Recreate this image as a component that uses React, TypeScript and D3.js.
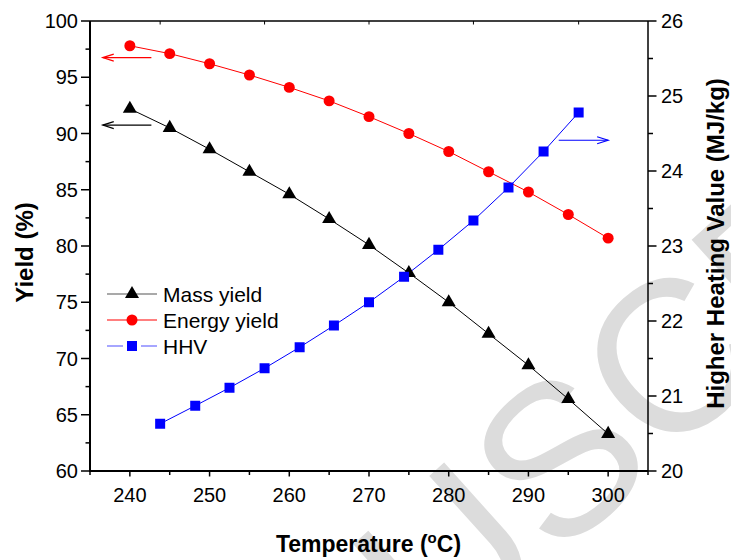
import React from "react";
import * as d3 from "d3";

// temperatures (deg C) for mass / energy yield
const temps = [240, 245, 250, 255, 260, 265, 270, 275, 280, 285, 290, 295, 300];
const massYield = [92.2, 90.5, 88.6, 86.6, 84.6, 82.4, 80.1, 77.6, 75.0, 72.2, 69.4, 66.4, 63.3];
const energyYield = [97.8, 97.1, 96.2, 95.2, 94.1, 92.9, 91.5, 90.0, 88.4, 86.6, 84.8, 82.8, 80.7];
// HHV is plotted against its own (top) x positions
const hhvTemps = [243.8, 248.2, 252.5, 256.9, 261.3, 265.6, 270.0, 274.4, 278.7, 283.1, 287.5, 291.9, 296.3];
const hhv = [20.63, 20.87, 21.11, 21.37, 21.65, 21.94, 22.25, 22.59, 22.95, 23.34, 23.78, 24.26, 24.78];

const xMajor = [240, 250, 260, 270, 280, 290, 300];
const xMinor = [235, 245, 255, 265, 275, 285, 295, 305];
const yMajor = [60, 65, 70, 75, 80, 85, 90, 95, 100];
const yMinor = [62.5, 67.5, 72.5, 77.5, 82.5, 87.5, 92.5, 97.5];
const y2Major = [20, 21, 22, 23, 24, 25, 26];
const y2Minor = [20.5, 21.5, 22.5, 23.5, 24.5, 25.5];

const legendItems = ["Mass yield", "Energy yield", "HHV"];

const font = "'Liberation Sans', Arial, Helvetica, sans-serif";

const margin = { top: 21, right: 83, bottom: 89, left: 90 };
const W = 731;
const H = 560;

export default function App() {
  const w = W - margin.left - margin.right;
  const h = H - margin.top - margin.bottom;
  const x = d3.scaleLinear().domain([235, 305]).range([margin.left, margin.left + w]);
  const y = d3.scaleLinear().domain([60, 100]).range([margin.top + h, margin.top]);
  const y2 = d3.scaleLinear().domain([20, 26]).range([margin.top + h, margin.top]);

  const massPts: [number, number][] = temps.map((t, i) => [x(t), y(massYield[i])]);
  const energyPts: [number, number][] = temps.map((t, i) => [x(t), y(energyYield[i])]);
  const hhvPts: [number, number][] = hhvTemps.map((t, i) => [x(t), y2(hhv[i])]);
  const line = d3.line();

  const tri = d3.symbol().type(d3.symbolTriangle).size(85)()!;
  const circ = d3.symbol().type(d3.symbolCircle).size(95)()!;
  const sq = d3.symbol().type(d3.symbolSquare).size(100)()!;

  const x0 = margin.left;
  const x1 = margin.left + w;
  const yb = margin.top + h;
  const yt = margin.top;
  const topTicks = hhvTemps.filter((_, i) => i % 3 === 0);

  const arrow = (xa: number, xb: number, yy: number, color: string) => {
    // arrow from xa to xb, head at xb
    const dir = xb > xa ? -1 : 1;
    return (
      <g stroke={color} strokeWidth={1.2} fill="none">
        <line x1={xa} x2={xb} y1={yy} y2={yy} />
        <polyline points={`${xb + dir * 11},${yy - 3.5} ${xb},${yy} ${xb + dir * 11},${yy + 3.5}`} />
      </g>
    );
  };

  const legY = [294, 320, 346];
  const legX = 132;

  return (
    <svg
      width={W}
      height={H}
      style={{ position: "absolute", left: 0, top: 0, background: "#fff" }}
      fontFamily={font}
    >
      <rect width={W} height={H} fill="#fff" />
      {/* watermark */}
      <text
        transform="translate(85,985) rotate(-42)"
        fontSize={215}
        fill="#dcdcdc"
      >
        MANUSCRIPT
      </text>

      {/* series */}
      <path d={line(massPts)!} fill="none" stroke="#000" strokeWidth={1} />
      <path d={line(energyPts)!} fill="none" stroke="#ff0000" strokeWidth={1} />
      <path d={line(hhvPts)!} fill="none" stroke="#0000ff" strokeWidth={1} />
      {massPts.map((p, i) => (
        <path key={"m" + i} d={tri} transform={`translate(${p[0]},${p[1]})`} fill="#000" />
      ))}
      {energyPts.map((p, i) => (
        <path key={"e" + i} d={circ} transform={`translate(${p[0]},${p[1]})`} fill="#ff0000" />
      ))}
      {hhvPts.map((p, i) => (
        <path key={"h" + i} d={sq} transform={`translate(${p[0]},${p[1]})`} fill="#0000ff" />
      ))}

      {/* arrows */}
      {arrow(x(242.7), x(236.6), y(96.75), "#ff0000")}
      {arrow(x(242.7), x(236.6), y(90.75), "#000")}
      {arrow(x(293.8), x(300.0), y2(24.41), "#0000ff")}

      {/* frame */}
      <line x1={x0} x2={x0} y1={yt} y2={yb + 1} stroke="#000" strokeWidth={2} />
      <line x1={x0 - 1} x2={x1} y1={yb} y2={yb} stroke="#000" strokeWidth={2} />
      <line x1={x0} x2={x1} y1={yt} y2={yt} stroke="#000" strokeWidth={1.5} />
      <line x1={x1} x2={x1} y1={yt} y2={yb} stroke="#000" strokeWidth={1.5} />

      {/* left axis ticks */}
      {yMajor.map((v) => (
        <g key={"ly" + v}>
          <line x1={x0 - 9} x2={x0} y1={y(v)} y2={y(v)} stroke="#000" strokeWidth={1.5} />
          <text x={x0 - 12} y={y(v)} dy="0.36em" textAnchor="end" fontSize={20}>
            {v}
          </text>
        </g>
      ))}
      {yMinor.map((v) => (
        <line key={"lm" + v} x1={x0 - 4.5} x2={x0} y1={y(v)} y2={y(v)} stroke="#000" strokeWidth={1.5} />
      ))}

      {/* right axis ticks */}
      {y2Major.map((v) => (
        <g key={"ry" + v}>
          <line x1={x1} x2={x1 + 8.5} y1={y2(v)} y2={y2(v)} stroke="#000" strokeWidth={1.5} />
          <text x={x1 + 13} y={y2(v)} dy="0.36em" textAnchor="start" fontSize={20}>
            {v}
          </text>
        </g>
      ))}
      {y2Minor.map((v) => (
        <line key={"rm" + v} x1={x1} x2={x1 + 5} y1={y2(v)} y2={y2(v)} stroke="#000" strokeWidth={1.5} />
      ))}

      {/* bottom axis ticks */}
      {xMajor.map((v) => (
        <g key={"bx" + v}>
          <line x1={x(v)} x2={x(v)} y1={yb} y2={yb + 5.5} stroke="#000" strokeWidth={1.5} />
          <text x={x(v)} y={yb + 31} textAnchor="middle" fontSize={20}>
            {v}
          </text>
        </g>
      ))}
      {xMinor.map((v) => (
        <line key={"bm" + v} x1={x(v)} x2={x(v)} y1={yb} y2={yb + 4} stroke="#000" strokeWidth={1.5} />
      ))}

      {/* top axis ticks (HHV positions) */}
      {topTicks.map((v) => (
        <line key={"tt" + v} x1={x(v)} x2={x(v)} y1={yt} y2={yt + 3.5} stroke="#000" strokeWidth={1} />
      ))}

      {/* axis titles */}
      <text
        transform={`translate(32.5,252.5) rotate(-90)`}
        textAnchor="middle"
        fontSize={24}
        fontWeight="bold"
      >
        Yield (%)
      </text>
      <text
        transform={`translate(724,243.5) rotate(-90)`}
        textAnchor="middle"
        fontSize={24}
        fontWeight="bold"
      >
        Higher Heating Value (MJ/kg)
      </text>
      <text x={368.5} y={552} textAnchor="middle" fontSize={23} fontWeight="bold">
        Temperature (<tspan fontSize={15} dy={-9}>o</tspan>
        <tspan dy={9}>C)</tspan>
      </text>

      {/* legend */}
      <g>
        <line x1={107} x2={157} y1={legY[0]} y2={legY[0]} stroke="#555" strokeWidth={1.2} />
        <path d={tri} transform={`translate(${legX},${legY[0]})`} fill="#000" />
        <line x1={107} x2={157} y1={legY[1]} y2={legY[1]} stroke="#ff0000" strokeWidth={1.2} />
        <path d={circ} transform={`translate(${legX},${legY[1]})`} fill="#ff0000" />
        <line x1={107} x2={123} y1={legY[2]} y2={legY[2]} stroke="#6b6bff" strokeWidth={1.2} />
        <line x1={141} x2={157} y1={legY[2]} y2={legY[2]} stroke="#6b6bff" strokeWidth={1.2} />
        <path d={sq} transform={`translate(${legX},${legY[2]})`} fill="#0000ff" />
        {legendItems.map((t, i) => (
          <text key={t} x={163} y={legY[i]} dy="0.36em" fontSize={21}>
            {t}
          </text>
        ))}
      </g>
    </svg>
  );
}
